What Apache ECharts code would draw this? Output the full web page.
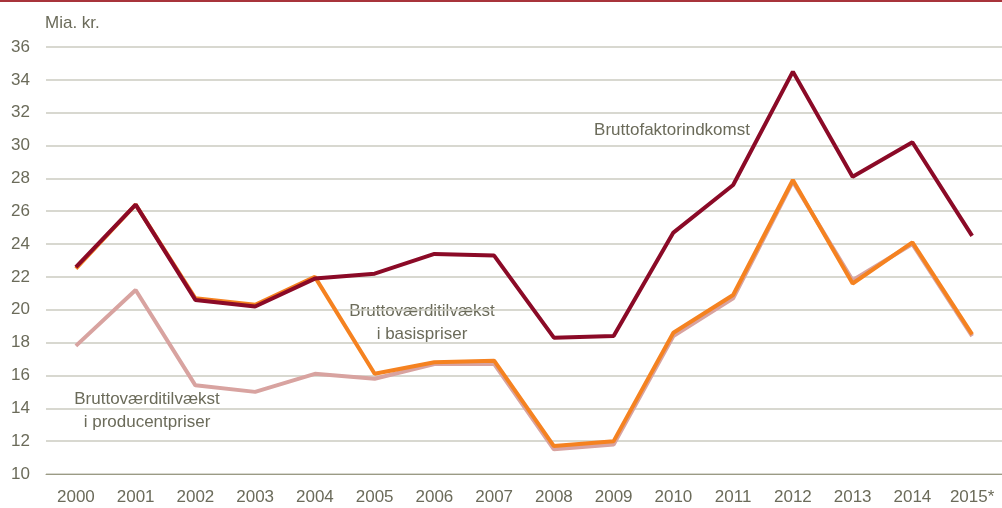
<!DOCTYPE html>
<html>
<head>
<meta charset="utf-8">
<script src="https://cdn.jsdelivr.net/npm/echarts@6/dist/echarts.min.js"></script>
<style>
  html, body { margin: 0; padding: 0; background: #fff; }
  #chart { width: 1002px; height: 508px; }
</style>
</head>
<body>
<div id="chart"></div>
<script>
// data
const years = ['2000', '2001', '2002', '2003', '2004', '2005', '2006', '2007',
  '2008', '2009', '2010', '2011', '2012', '2013', '2014', '2015*'];
const faktorindkomst = [22.6, 26.4, 20.6, 20.2, 21.9, 22.2, 23.4, 23.3, 18.3, 18.4, 24.7, 27.6, 34.5, 28.1, 30.2, 24.5];
const basispriser = [22.5, 26.4, 20.7, 20.3, 22.0, 16.1, 16.8, 16.9, 11.7, 12.0, 18.6, 20.9, 27.9, 21.6, 24.1, 18.5];
const producentpriser = [17.8, 21.2, 15.4, 15.0, 16.1, 15.8, 16.7, 16.7, 11.5, 11.8, 18.4, 20.7, 27.8, 21.8, 24.0, 18.4];

const textColor = '#6b6b5a';
const font = '"Liberation Sans", Arial, sans-serif';

const chart = echarts.init(document.getElementById('chart'));

// tekst-annotationer ved linjerne
function note(x, y, text) {
  return {
    type: 'text', x: x, y: y,
    style: { text: text, fill: textColor, font: '17px ' + font, align: 'center', verticalAlign: 'middle', lineHeight: 23 },
  };
}

const option = {
  animation: false,
  grid: {
    left: 46,
    top: 47,
    width: 964,
    height: 427,
  },
  graphic: [
    // rød streg i toppen
    { type: 'rect', left: 0, top: 0, shape: { width: 1002, height: 2 }, style: { fill: '#a8343b' } },
    { type: 'text', left: 45, top: 15, style: { text: 'Mia. kr.', fill: textColor, font: '17px ' + font } },
    note(672, 130, 'Bruttofaktorindkomst'),
    note(422, 323, 'Bruttoværditilvækst\ni basispriser'),
    note(147, 411, 'Bruttoværditilvækst\ni producentpriser'),
  ],
  xAxis: {
    type: 'category',
    data: years,
    boundaryGap: true,
    axisTick: { show: false },
    axisLine: { lineStyle: { color: '#9b9b85', width: 1 } },
    axisLabel: { color: textColor, fontSize: 17, fontFamily: font, margin: 15, interval: 0 },
  },
  yAxis: {
    type: 'value',
    min: 10,
    max: 36,
    interval: 2,
    axisLine: { show: false },
    axisTick: { show: false },
    axisLabel: { color: textColor, fontSize: 17, fontFamily: font, margin: 16 },
    splitLine: { lineStyle: { color: '#cbcbc0', width: 1.5 } },
  },
  series: [
    {
      name: 'Bruttoværditilvækst i producentpriser',
      type: 'line',
      data: producentpriser,
      symbol: 'none',
      lineStyle: { color: '#d8a3a0', width: 4 },
      z: 2,
    },
    {
      name: 'Bruttoværditilvækst i basispriser',
      type: 'line',
      data: basispriser,
      symbol: 'none',
      lineStyle: { color: '#f58220', width: 4 },
      z: 3,
    },
    {
      name: 'Bruttofaktorindkomst',
      type: 'line',
      data: faktorindkomst,
      symbol: 'none',
      lineStyle: { color: '#8b0a27', width: 4 },
      z: 4,
    },
  ],
};

chart.setOption(option);
window.addEventListener('resize', chart.resize);
</script>
</body>
</html>
